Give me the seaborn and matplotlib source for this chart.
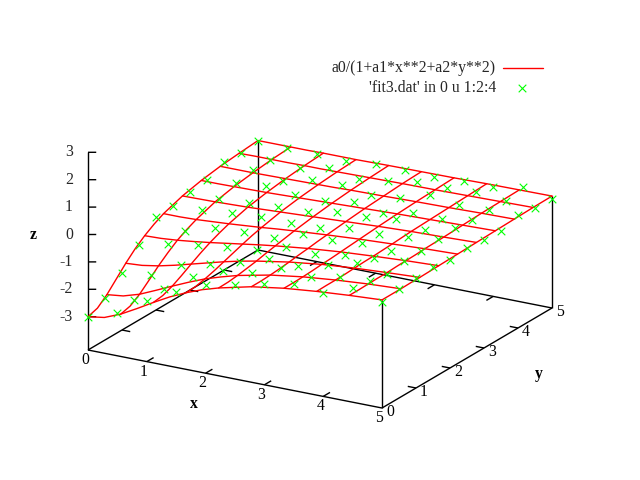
import numpy as np
import pandas as pd
import matplotlib
matplotlib.use("Agg")
import matplotlib.pyplot as plt
import seaborn as sns

# grid positions along x and y on which the red surface was read
SAMPLE_POS = [0.0, 0.278, 0.556, 0.833, 1.111, 1.389, 1.667, 1.944, 2.222,
              2.778, 3.333, 3.889, 4.444, 5.0]
ISOLINES = [0, 2, 4, 6, 8, 9, 10, 11, 12, 13]

# surface heights: rows follow y, columns follow x
SURFACE_Z = [
    [-3.00,-2.91,-2.67,-2.35,-2.01,-1.69,-1.42,-1.19,-1.01,-0.73,-0.55,-0.43,-0.34,-0.27],
    [-2.89,-2.80,-2.58,-2.28,-1.96,-1.66,-1.40,-1.18,-1.00,-0.73,-0.55,-0.42,-0.34,-0.27],
    [-2.60,-2.53,-2.35,-2.09,-1.82,-1.56,-1.32,-1.13,-0.96,-0.71,-0.54,-0.42,-0.33,-0.27],
    [-2.23,-2.18,-2.04,-1.85,-1.63,-1.42,-1.22,-1.05,-0.90,-0.68,-0.52,-0.41,-0.32,-0.26],
    [-1.86,-1.82,-1.72,-1.58,-1.42,-1.26,-1.10,-0.96,-0.84,-0.64,-0.49,-0.39,-0.32,-0.26],
    [-1.53,-1.50,-1.44,-1.34,-1.22,-1.10,-0.98,-0.86,-0.76,-0.59,-0.47,-0.37,-0.30,-0.25],
    [-1.26,-1.24,-1.19,-1.12,-1.04,-0.95,-0.86,-0.77,-0.69,-0.55,-0.44,-0.36,-0.29,-0.24],
    [-1.04,-1.03,-1.00,-0.95,-0.89,-0.82,-0.75,-0.68,-0.62,-0.50,-0.41,-0.34,-0.28,-0.23],
    [-0.86,-0.86,-0.84,-0.80,-0.76,-0.71,-0.66,-0.60,-0.55,-0.46,-0.38,-0.32,-0.26,-0.22],
    [-0.62,-0.61,-0.60,-0.58,-0.56,-0.53,-0.50,-0.47,-0.44,-0.38,-0.32,-0.27,-0.24,-0.20],
    [-0.46,-0.46,-0.45,-0.44,-0.43,-0.41,-0.39,-0.37,-0.35,-0.31,-0.27,-0.24,-0.21,-0.18],
    [-0.35,-0.35,-0.35,-0.34,-0.33,-0.32,-0.31,-0.30,-0.28,-0.26,-0.23,-0.21,-0.18,-0.16],
    [-0.28,-0.27,-0.27,-0.27,-0.26,-0.26,-0.25,-0.24,-0.23,-0.21,-0.20,-0.18,-0.16,-0.14],
    [-0.22,-0.22,-0.22,-0.22,-0.21,-0.21,-0.21,-0.20,-0.19,-0.18,-0.17,-0.15,-0.14,-0.13],
]

# data points: rows follow y = 0, 0.5 ... 5; columns follow x = 0, 0.5 ... 5
POINT_POS = [0.0, 0.5, 1.0, 1.5, 2.0, 2.5, 3.0, 3.5, 4.0, 4.5, 5.0]
POINT_Z = [
    [-3.00,-2.66,-2.01,-1.45,-1.01,-0.80,-0.55,-0.34,-0.45,-0.06,-0.36],
    [-2.67,-2.55,-1.92,-1.28,-0.86,-0.72,-0.32,-0.43,-0.21,-0.14,-0.23],
    [-2.13,-1.98,-1.43,-1.17,-0.88,-0.57,-0.62,-0.36,-0.09,-0.25,-0.19],
    [-1.48,-1.22,-1.07,-0.93,-0.80,-0.48,-0.55,-0.35,-0.26,-0.17,-0.16],
    [-0.81,-1.13,-0.81,-0.73,-0.73,-0.37,-0.40,-0.28,-0.36,-0.15,-0.27],
    [-0.80,-0.73,-0.61,-0.54,-0.55,-0.52,-0.31,-0.34,-0.23,-0.09,-0.21],
    [-0.65,-0.67,-0.62,-0.55,-0.51,-0.30,-0.27,-0.15,-0.34,-0.05,-0.27],
    [-0.58,-0.45,-0.37,-0.49,-0.49,-0.30,-0.51,-0.30,-0.30,-0.13,-0.31],
    [-0.28,-0.34,-0.55,-0.31,-0.28,-0.43,-0.31, 0.00,-0.14,-0.13,-0.09],
    [-0.31,-0.36,-0.42,-0.21,-0.42,-0.28,-0.11,-0.12,-0.05,-0.16,-0.19],
    [-0.24,-0.27,-0.30,-0.34,-0.24,-0.24,-0.27,-0.20,-0.23, 0.00,-0.25],
]

X_TICKS = [0, 1, 2, 3, 4, 5]
Y_TICKS = [0, 1, 2, 3, 4, 5]
Z_TICKS = [-3, -2, -1, 0, 1, 2, 3]
LEGEND_LABELS = ["a0/(1+a1*x**2+a2*y**2)", "'fit3.dat' in 0 u 1:2:4"]


def project(x, y, z):
    """gnuplot view 60,30 as pixel positions."""
    x, y, z = np.asarray(x, float), np.asarray(y, float), np.asarray(z, float)
    px = 88 + 58.8 * x + 34.0 * y
    py = 350 + 11.6 * x - 20.0 * y - (z + 4.215) * 27.4
    return px, py


sns.set_style("white")
plt.rcParams["font.family"] = ["Liberation Serif", "DejaVu Serif"]
fig = plt.figure(figsize=(6.4, 4.8), dpi=100, facecolor="white")
ax = fig.add_axes([0, 0, 1, 1])
ax.set_xlim(0, 640)
ax.set_ylim(480, 0)
ax.axis("off")

LW = 1.0
FS = 11.3
BASE = -4.215
black = dict(color="black", lw=LW, solid_capstyle="butt")


def seg(p0, p1):
    a = project(*p0)
    b = project(*p1)
    ax.plot([a[0], b[0]], [a[1], b[1]], **black)


# frame
seg((0, 0, BASE), (5, 0, BASE))
seg((5, 0, BASE), (5, 5, BASE))
seg((0, 0, BASE), (0, 5, BASE))
seg((0, 5, BASE), (5, 5, BASE))
seg((0, 0, BASE), (0, 0, Z_TICKS[-1]))
seg((5, 0, BASE), (5, 0, SURFACE_Z[0][-1]))
seg((5, 5, BASE), (5, 5, SURFACE_Z[-1][-1]))
seg((0, 5, BASE), (0, 5, SURFACE_Z[-1][0]))

# ticks
for t in X_TICKS[1:-1]:
    seg((t, 0, BASE), (t, 0.2, BASE))
    seg((t, 5, BASE), (t, 4.8, BASE))
for t in Y_TICKS[1:-1]:
    seg((0, t, BASE), (0.14, t, BASE))
    seg((5, t, BASE), (4.86, t, BASE))
for t in Z_TICKS:
    seg((0, 0, t), (0.14, -0.0, t + 0.06))

font = dict(fontsize=FS, color="black", ha="center", va="center")
for t in X_TICKS:
    px, py = project(t, 0, BASE)
    ax.text(px - 3, py + 10, str(t), **font)
for t in Y_TICKS:
    px, py = project(5, t, BASE)
    ax.text(px + 8, py + 4.5, str(t), **font)
for t in Z_TICKS:
    px, py = project(0, 0, t)
    ax.text(73, py, str(t), fontsize=FS, ha="right", va="center")
ax.text(33, 235, "z", fontweight="bold", **font)
ax.text(194, 404, "x", fontweight="bold", **font)
ax.text(539, 374, "y", fontweight="bold", **font)

# surface
pos = np.array(SAMPLE_POS)
Z = np.array(SURFACE_Z)
rows = []
for n, j in enumerate(ISOLINES):
    sx, sy = project(pos, np.full_like(pos, pos[j]), Z[j, :])
    rows.append(pd.DataFrame({"sx": sx, "sy": sy, "line": f"y{n}", "step": range(len(pos))}))
    sx, sy = project(np.full_like(pos, pos[j]), pos, Z[:, j])
    rows.append(pd.DataFrame({"sx": sx, "sy": sy, "line": f"x{n}", "step": range(len(pos))}))
surface = pd.concat(rows, ignore_index=True)
sns.lineplot(data=surface, x="sx", y="sy", units="line", estimator=None, sort=False,
             color="#ff0000", lw=LW, ax=ax, legend=False)

# points
gx, gy = np.meshgrid(POINT_POS, POINT_POS)
sx, sy = project(gx.ravel(), gy.ravel(), np.array(POINT_Z).ravel())
points = pd.DataFrame({"sx": sx, "sy": sy})
sns.scatterplot(data=points, x="sx", y="sy", marker="x", color="#00ff00", s=30,
                linewidth=0.8, ax=ax, legend=False, zorder=5)

# legend
ax.text(496, 68, LEGEND_LABELS[0], fontsize=FS, ha="right", va="center")
ax.text(496, 88, LEGEND_LABELS[1], fontsize=FS, ha="right", va="center")
sns.lineplot(x=[503, 543], y=[68, 68], color="#ff0000", lw=LW, ax=ax, legend=False)
sns.scatterplot(x=[522], y=[88], marker="x", color="#00ff00", s=30, linewidth=0.8,
                ax=ax, legend=False, zorder=5)

ax.set_xlim(0, 640)
ax.set_ylim(480, 0)
ax.set_xlabel("")
ax.set_ylabel("")
fig.savefig("out.png", dpi=100, facecolor="white")
